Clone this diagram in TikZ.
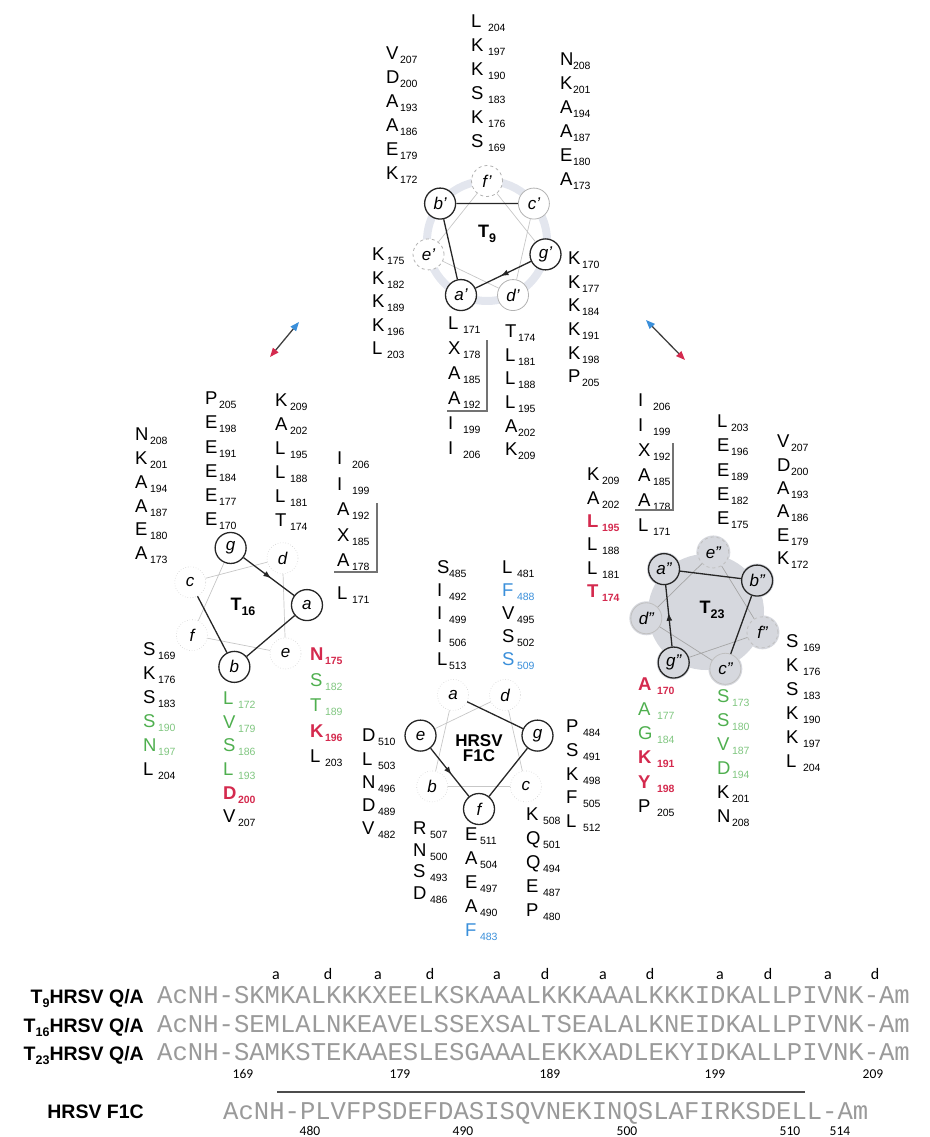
\documentclass[tikz,border=0pt]{standalone}
\usepackage{fontspec}
\setmainfont{Liberation Sans}
\setmonofont{Liberation Mono}
\newfontfamily\heptfont{Carlito}
\usetikzlibrary{calc,arrows.meta,decorations.markings}
\definecolor{resred}{HTML}{D42A4E}
\definecolor{resgreen}{HTML}{4FAF4F}
\definecolor{resgreenl}{HTML}{80C680}
\definecolor{resblue}{HTML}{3A8FDA}
\definecolor{seqgray}{HTML}{9A9A9A}
\definecolor{wheelgray}{HTML}{D6D8DE}
\definecolor{ringgray}{HTML}{E3E6EE}
\newlength\rsw
\setlength\rsw{15pt}
\newcommand\rsd[2]{\makebox[\rsw][l]{#1}\raisebox{-4pt}{\fontsize{10.5}{10.5}\selectfont #2}}
\newcommand\rsr[2]{{\color{resred}\bfseries\rsd{#1}{#2}}}
\newcommand\rsg[2]{{\color{resgreen}\makebox[\rsw][l]{#1}\raisebox{-4pt}{\color{resgreenl}\fontsize{10.5}{10.5}\selectfont #2}}}
\newcommand\rsb[2]{{\color{resblue}\rsd{#1}{#2}}}
\newcommand\sbx[1]{\raisebox{-4.5pt}{\fontsize{12.5}{12.5}\selectfont #1}}
\begin{document}
\begin{tikzpicture}[x=1pt,y=-1pt,
  col/.style 2 args={anchor=north west, inner sep=0pt, outer sep=0pt, align=left,
      font=\fontsize{18.5}{#1}\selectfont\setlength\rsw{#2}},
  wl/.style={circle, inner sep=0pt, minimum size=31pt, font=\fontsize{17}{17}\selectfont\itshape},
  wbold/.style={wl, draw=black!85, line width=1.3pt, fill=white},
  wboldg/.style={wl, draw=black!85, line width=1.3pt, fill=wheelgray},
  wlight/.style={wl, draw=black!30, line width=0.8pt, fill=white},
  wdash/.style={wl, draw=black!30, line width=0.8pt, dashed, fill=white},
  wnone/.style={wl, draw=black!18, line width=0.6pt, dotted},
  wgray/.style={wl, draw=black!25, line width=0.8pt, fill=wheelgray},
  wgraydash/.style={wgray, dashed},
  bond/.style={draw=black!85, line width=1.3pt},
  fbond/.style={draw=black!22, line width=0.7pt},
  abond/.style={bond, postaction={decorate}, decoration={markings,
      mark=at position 0.55 with {\arrow{Latex[length=8pt,width=6pt]}}}},
  brk/.style={draw=black!55, line width=1.3pt},
  wlab/.style={inner sep=0pt, font=\bfseries\fontsize{18}{16}\selectfont, align=center},
  seqlab/.style={inner sep=0pt, anchor=base east, font=\bfseries\fontsize{19.5}{20}\selectfont},
  seq/.style={inner sep=0pt, anchor=base west, text=seqgray, text height=16pt, text depth=0pt,
      font=\ttfamily\fontsize{25.6}{26}\selectfont},
  hept/.style={inner sep=0pt, anchor=base, text depth=0pt, font=\heptfont\fontsize{16}{16}\selectfont},
  num/.style={inner sep=0pt, anchor=base, text height=9pt, text depth=0pt, font=\heptfont\fontsize{13.5}{13.5}\selectfont},
  dbl/.style={draw=black!75, line width=1.3pt,
      {Triangle[color=resblue,length=9pt,width=7pt]}-{Triangle[color=resred,length=9pt,width=7pt]}}
]
\useasboundingbox (0,0) rectangle (929,1137);

%% ---------------- T9 wheel ----------------
\coordinate (C9) at (487,241);
\draw[ringgray, line width=8pt] (C9) circle[radius=60pt];
\node[wdash]  (t9fw) at ($(C9)+(90:60pt)$) {f'};
\node[wlight] (t9cw) at ($(C9)+(38.6:60pt)$) {c'};
\node[wbold]  (t9gw) at ($(C9)+(-12.9:60pt)$) {g'};
\node[wlight] (t9dw) at ($(C9)+(-64.3:60pt)$) {d'};
\node[wbold]  (t9aw) at ($(C9)+(-115.7:60pt)$) {a'};
\node[wdash]  (t9ew) at ($(C9)+(-167.1:60pt)$) {e'};
\node[wbold]  (t9bw) at ($(C9)+(141.4:60pt)$) {b'};
\draw[fbond] (t9cw) -- (t9dw) -- (t9ew) -- (t9fw) -- (t9gw);
\draw[bond] (t9aw) -- (t9bw) -- (t9cw);
\draw[abond] (t9gw) -- (t9aw);
\node[wlab] (t9lab) at (487,234) {T\sbx{9}};

\node[col={24pt}{17pt}] (t9top) at (471,15) {\rsd L{204}\\\rsd K{197}\\\rsd K{190}\\\rsd S{183}\\\rsd K{176}\\\rsd S{169}};
\node[col={24pt}{14pt}] (t9l) at (386,47) {\rsd V{207}\\\rsd D{200}\\\rsd A{193}\\\rsd A{186}\\\rsd E{179}\\\rsd K{172}};
\node[col={24pt}{13pt}] (t9r) at (560,53) {\rsd N{208}\\\rsd K{201}\\\rsd A{194}\\\rsd A{187}\\\rsd E{180}\\\rsd A{173}};
\node[col={23.5pt}{15pt}] (t9e) at (372,248) {\rsd K{175}\\\rsd K{182}\\\rsd K{189}\\\rsd K{196}\\\rsd L{203}};
\node[col={25pt}{15pt}] (t9a) at (448,317) {\rsd L{171}\\\rsd X{178}\\\rsd A{185}\\\rsd A{192}\\\rsd I{199}\\\rsd I{206}};
\node[col={23.6pt}{13pt}] (t9d) at (505,325) {\rsd T{174}\\\rsd L{181}\\\rsd L{188}\\\rsd L{195}\\\rsd A{202}\\\rsd K{209}};
\node[col={23.6pt}{14pt}] (t9g) at (568,252) {\rsd K{170}\\\rsd K{177}\\\rsd K{184}\\\rsd K{191}\\\rsd K{198}\\\rsd P{205}};
\draw[brk] (487,340) -- (487,411) -- (447,411);

%% ---------------- T16 wheel ----------------
\coordinate (C16) at (246,607);
\node[wbold] (t16gw) at ($(C16)+(104.6:61pt)$) {g};
\node[wnone] (t16dw) at ($(C16)+(53.2:61pt)$) {d};
\node[wbold] (t16aw) at ($(C16)+(1.8:61pt)$) {a};
\node[wnone] (t16ew) at ($(C16)+(-49.6:61pt)$) {e};
\node[wbold] (t16bw) at ($(C16)+(-101:61pt)$) {b};
\node[wnone] (t16fw) at ($(C16)+(-152.5:61pt)$) {f};
\node[wnone] (t16cw) at ($(C16)+(156.1:61pt)$) {c};
\draw[fbond] (t16cw) -- (t16dw) -- (t16ew) -- (t16fw) -- (t16gw);
\draw[bond] (t16aw) -- (t16bw) -- (t16cw);
\draw[abond] (t16gw) -- (t16aw);
\node[wlab] (t16lab) at (243,607) {T\sbx{16}};

\node[col={23.8pt}{15pt}] (t16c) at (135,428) {\rsd N{208}\\\rsd K{201}\\\rsd A{194}\\\rsd A{187}\\\rsd E{180}\\\rsd A{173}};
\node[col={24.2pt}{14pt}] (t16g) at (205,392) {\rsd P{205}\\\rsd E{198}\\\rsd E{191}\\\rsd E{184}\\\rsd E{177}\\\rsd E{170}};
\node[col={24pt}{15pt}] (t16d) at (275,394) {\rsd K{209}\\\rsd A{202}\\\rsd L{195}\\\rsd L{188}\\\rsd L{181}\\\rsd T{174}};
\node[col={25.5pt}{15pt}] (t16a) at (337,452) {\rsd I{206}\\\rsd I{199}\\\rsd A{192}\\\rsd X{185}\\\rsd A{178}\\[7pt]\rsd L{171}};
\draw[brk] (377,503) -- (377,572) -- (334,572);
\node[col={24pt}{15pt}] (t16f) at (143,643) {\rsd S{169}\\\rsd K{176}\\\rsd S{183}\\\rsg S{190}\\\rsg N{197}\\\rsd L{204}};
\node[col={23.6pt}{15pt}] (t16b) at (223,692) {\rsg L{172}\\\rsg V{179}\\\rsg S{186}\\\rsg L{193}\\\rsr D{200}\\\rsd V{207}};
\node[col={25.5pt}{15pt}] (t16e) at (310,648) {\rsr N{175}\\\rsg S{182}\\\rsg T{189}\\\rsr K{196}\\\rsd L{203}};

%% ---------------- T23 wheel ----------------
\coordinate (C23) at (706,612);
\fill[wheelgray] (C23) circle[radius=58pt];
\foreach \a in {83,31.6,-19.8,-71.2,-122.6,-174,134.4}
  \fill[wheelgray] ($(C23)+(\a:60pt)$) circle[radius=17pt];
\node[wgraydash] (t23ew) at ($(C23)+(83:60pt)$) {e''};
\node[wboldg]    (t23bw) at ($(C23)+(31.6:60pt)$) {b''};
\node[wgraydash] (t23fw) at ($(C23)+(-19.8:60pt)$) {f''};
\node[wgray]     (t23cw) at ($(C23)+(-71.2:60pt)$) {c''};
\node[wboldg]    (t23gw) at ($(C23)+(-122.6:60pt)$) {g''};
\node[wgray]     (t23dw) at ($(C23)+(-174:60pt)$) {d''};
\node[wboldg]    (t23aw) at ($(C23)+(134.4:60pt)$) {a''};
\draw[fbond, draw=black!35] (t23cw) -- (t23dw) -- (t23ew) -- (t23fw) -- (t23gw);
\draw[bond] (t23aw) -- (t23bw) -- (t23cw);
\draw[abond] (t23gw) -- (t23aw);
\node[wlab] (t23lab) at (712,610) {T\sbx{23}};

\node[col={23.4pt}{15pt}] (t23d) at (587,468) {\rsd K{209}\\\rsd A{202}\\\rsr L{195}\\\rsd L{188}\\\rsd L{181}\\\rsr T{174}};
\node[col={25pt}{15pt}] (t23a) at (638,394) {\rsd I{206}\\\rsd I{199}\\\rsd X{192}\\\rsd A{185}\\\rsd A{178}\\\rsd L{171}};
\draw[brk] (673,443) -- (673,510) -- (635,510);
\node[col={24.25pt}{14pt}] (t23e) at (717,415) {\rsd L{203}\\\rsd E{196}\\\rsd E{189}\\\rsd E{182}\\\rsd E{175}};
\node[col={23.4pt}{14pt}] (t23b) at (777,435) {\rsd V{207}\\\rsd D{200}\\\rsd A{193}\\\rsd A{186}\\\rsd E{179}\\\rsd K{172}};
\node[col={24.4pt}{19pt}] (t23g) at (638,678) {\rsr A{170}\\\rsg A{177}\\\rsg G{184}\\\rsr K{191}\\\rsr Y{198}\\\rsd P{205}};
\node[col={24pt}{15pt}] (t23c) at (717,690) {\rsg S{173}\\\rsg S{180}\\\rsg V{187}\\\rsg D{194}\\\rsd K{201}\\\rsd N{208}};
\node[col={24pt}{17pt}] (t23f) at (786,635) {\rsd S{169}\\\rsd K{176}\\\rsd S{183}\\\rsd K{190}\\\rsd K{197}\\\rsd L{204}};

%% ---------------- HRSV F1C wheel ----------------
\coordinate (CF) at (479,749);
\node[wbold] (ffw) at ($(CF)+(-90:60pt)$) {f};
\node[wnone] (fcw) at ($(CF)+(-38.6:60pt)$) {c};
\node[wbold] (fgw) at ($(CF)+(12.9:60pt)$) {g};
\node[wnone] (fdw) at ($(CF)+(64.3:60pt)$) {d};
\node[wnone] (faw) at ($(CF)+(115.7:60pt)$) {a};
\node[wbold] (few) at ($(CF)+(167.1:60pt)$) {e};
\node[wnone] (fbw) at ($(CF)+(-141.4:60pt)$) {b};
\draw[fbond] (faw) -- (fbw) -- (fcw) -- (fdw) -- (few);
\draw[bond] (ffw) -- (fgw) -- (faw);
\draw[abond] (few) -- (ffw);
\node[wlab, font=\bfseries\fontsize{17}{15}\selectfont] (flab) at (479,748) {HRSV\\F1C};

\node[col={23pt}{12pt}] (fa) at (437,561) {\rsd S{485}\\\rsd I{492}\\\rsd I{499}\\\rsd I{506}\\\rsd L{513}};
\node[col={23pt}{15pt}] (fd) at (502,561) {\rsd L{481}\\\rsb F{488}\\\rsd V{495}\\\rsd S{502}\\\rsb S{509}};
\node[col={23.3pt}{16pt}] (fe) at (362,729) {\rsd D{510}\\\rsd L{503}\\\rsd N{496}\\\rsd D{489}\\\rsd V{482}};
\node[col={21.5pt}{17pt}] (fb) at (413,822) {\rsd R{507}\\\rsd N{500}\\\rsd S{493}\\\rsd D{486}};
\node[col={24pt}{15pt}] (ff) at (465,828) {\rsd E{511}\\\rsd A{504}\\\rsd E{497}\\\rsd A{490}\\\rsb F{483}};
\node[col={24pt}{17pt}] (fc) at (526,808) {\rsd K{508}\\\rsd Q{501}\\\rsd Q{494}\\\rsd E{487}\\\rsd P{480}};
\node[col={23.75pt}{17pt}] (fg) at (566,720) {\rsd P{484}\\\rsd S{491}\\\rsd K{498}\\\rsd F{505}\\\rsd L{512}};

%% ---------------- double arrows ----------------
\coordinate (la1) at (299,322); \coordinate (la2) at (270,357);
\draw[dbl] (la1) -- (la2);
\coordinate (ra1) at (646,320); \coordinate (ra2) at (685,360);
\draw[dbl] (ra1) -- (ra2);

%% ---------------- sequences ----------------
\foreach \x/\t [count=\i] in {276/a,328/d,378/a,430/d,497/a,545/d,603/a,650/d,720/a,768/d,828/a,875/d}
  \node[hept] (hp\i) at (\x,979) {\t};
\node[seqlab] (lab9) at (144,1003) {T\sbx{9}HRSV Q/A};
\node[seq] (seq9) at (157,1003) {AcNH-SKMKALKKKXEELKSKAAALKKKAAALKKKIDKALLPIVNK-Am};
\node[seqlab] (lab16) at (144,1032) {T\sbx{16}HRSV Q/A};
\node[seq] (seq16) at (157,1032) {AcNH-SEMLALNKEAVELSSEXSALTSEALALKNEIDKALLPIVNK-Am};
\node[seqlab] (lab23) at (144,1060) {T\sbx{23}HRSV Q/A};
\node[seq] (seq23) at (157,1060) {AcNH-SAMKSTEKAAESLESGAAALEKKXADLEKYIDKALLPIVNK-Am};
\foreach \x/\t [count=\i] in {243/169,400/179,550/189,715/199,873/209}
  \node[num] (nt\i) at (\x,1078) {\t};
\draw[black!70, line width=1.2pt] (277,1092) -- (805,1092);
\node[seqlab] (labf) at (144,1118) {HRSV F1C};
\node[seq] (seqf) at (223,1119) {AcNH-PLVFPSDEFDASISQVNEKINQSLAFIRKSDELL-Am};
\foreach \x/\t [count=\i] in {310/480,463/490,627/500,790/510,840/514}
  \node[num] (nf\i) at (\x,1135) {\t};
\end{tikzpicture}
\end{document}
